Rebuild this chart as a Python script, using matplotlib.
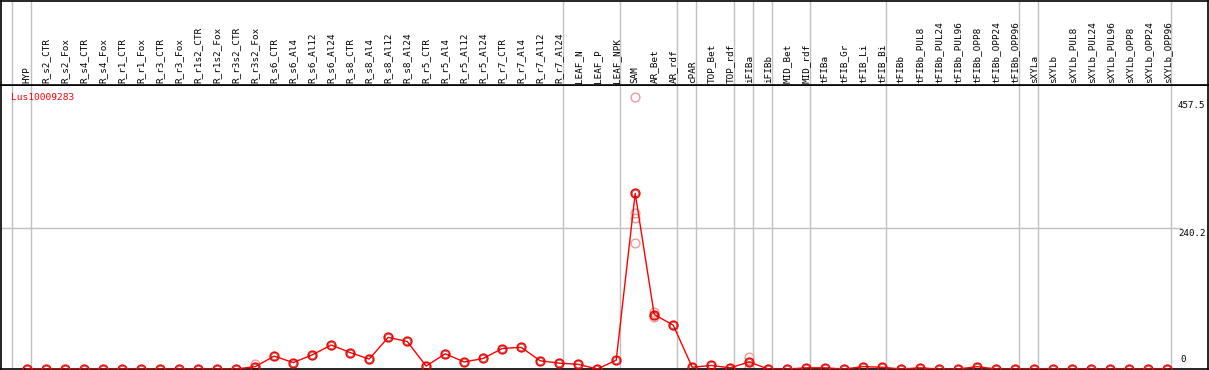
import numpy as np
import matplotlib
matplotlib.use("Agg")
import matplotlib.pyplot as plt
import matplotlib.transforms as mtransforms

# Daten
samples = ["HYP", "R_s2_CTR", "R_s2_Fox", "R_s4_CTR", "R_s4_Fox", "R_r1_CTR", "R_r1_Fox",
           "R_r3_CTR", "R_r3_Fox", "R_r1s2_CTR", "R_r1s2_Fox", "R_r3s2_CTR", "R_r3s2_Fox",
           "R_s6_CTR", "R_s6_Al4", "R_s6_Al12", "R_s6_Al24", "R_s8_CTR", "R_s8_Al4",
           "R_s8_Al12", "R_s8_Al24", "R_r5_CTR", "R_r5_Al4", "R_r5_Al12", "R_r5_Al24",
           "R_r7_CTR", "R_r7_Al4", "R_r7_Al12", "R_r7_Al24", "LEAF_N", "LEAF_P", "LEAF_NPK",
           "SAM", "AR_Bet", "AR_rdf", "cPAR", "TOP_Bet", "TOP_rdf", "iFIBa", "iFIBb",
           "MID_Bet", "MID_rdf", "tFIBa", "tFIB_Gr", "tFIB_Li", "tFIB_Bi", "tFIBb",
           "tFIBb_PUL8", "tFIBb_PUL24", "tFIBb_PUL96", "tFIBb_OPP8", "tFIBb_OPP24",
           "tFIBb_OPP96", "sXYLa", "sXYLb", "sXYLb_PUL8", "sXYLb_PUL24", "sXYLb_PUL96",
           "sXYLb_OPP8", "sXYLb_OPP24", "sXYLb_OPP96"]

mean_expr = [0, 0, 0, 0, 0, 0, 0, 0, 0, 0, 0, 0, 4,
             22, 11, 24, 41, 28, 17, 54, 47, 5, 26, 12, 18, 35, 37, 14, 10,
             8, 0, 15,
             300, 93, 75, 3, 6, 2, 12, 0, 0, 2, 2, 0, 4, 3, 0, 2, 0, 0, 4, 0, 0,
             0, 0, 0, 0, 0, 0, 0, 0]

# einzelne Replikate (nur wo sichtbar)
rep_samples = ["R_r3s2_Fox", "SAM", "SAM", "SAM", "SAM", "AR_Bet", "AR_Bet", "iFIBa", "iFIBa"]
rep_values = [8, 464, 266, 257, 215, 98, 88, 21, 2]

# Gruppengrenzen (nach diesen Proben)
group_ends = ["HYP", "R_r7_Al24", "LEAF_NPK", "AR_rdf", "cPAR", "TOP_rdf", "iFIBa",
              "iFIBb", "MID_rdf", "tFIB_Bi", "tFIBb_OPP96", "sXYLa", "sXYLb_OPP96"]

gene = "Lus10009283"
ytick_vals = [457.5, 240.2, 0]
ytick_txt = ["457.5", "240.2", "0"]

mono = "DejaVu Sans Mono"
W, H = 1209, 370
fig = plt.figure(figsize=(W / 100, H / 100), dpi=100)

x = np.arange(len(samples))
xmin = -26.7 / 19
xmax = xmin + 1207 / 19

ax = fig.add_axes([0.5 / W, 1 / H, 1207 / W, 284 / H])
lab = fig.add_axes([0.5 / W, 285 / H, 1207 / W, 84.5 / H], sharex=ax)

ax.set_xlim(xmin, xmax)
ax.set_ylim(0, 284 / 0.5857)
for a in (ax, lab):
    a.set_xticks([])
    a.set_yticks([])
    for s in a.spines.values():
        s.set_color("black")
        s.set_linewidth(1.2)

# Trennlinien
bounds = [-1] + [samples.index(s) for s in group_ends]
for b in bounds:
    for a in (ax, lab):
        a.axvline(b + 0.2, color="#c0c0c0", lw=1, zorder=0)

ax.axhline(240.2, xmax=1180 / 1207, color="#c0c0c0", lw=1, zorder=0)

# Replikate
rep_x = [samples.index(s) for s in rep_samples]
ax.plot(rep_x, rep_values, ls="none", marker="o", ms=6.3, mfc="none", mec="#f09a9a", mew=1.0, zorder=2)

# Mittelwert
ax.plot(x, mean_expr, color="red", lw=1, zorder=3)
ax.plot(x, mean_expr, ls="none", marker="o", ms=6.3, mfc="none", mec="red", mew=1.1, zorder=4)
ax.plot(x, mean_expr, ls="none", marker="o", ms=4.6, mfc="none", mec="#600000", mew=0.5, alpha=0.7, zorder=5)

# Achsenbeschriftung rechts
ytr = mtransforms.blended_transform_factory(ax.transAxes, ax.transData)
ax.text(1205 / 1207, 457.5, ytick_txt[0], transform=ytr, ha="right", va="top", fontsize=6.6, family=mono)
ax.text(1205 / 1207, 240.2 - 1.5, ytick_txt[1], transform=ytr, ha="right", va="top", fontsize=6.6, family=mono)
ax.text(1180 / 1207, 8, ytick_txt[2], transform=ytr, ha="left", va="bottom", fontsize=6.6, family=mono)

ax.text(10 / 1207, 1 - 8 / 284, gene, transform=ax.transAxes, ha="left", va="top",
        color="red", fontsize=6.8, family=mono)

# Probennamen
trans = mtransforms.blended_transform_factory(lab.transData, lab.transAxes)
for i, s in enumerate(samples):
    lab.text(i, 0.025, s, rotation=90, ha="center", va="bottom", fontsize=6.7,
             family=mono, transform=trans)

fig.savefig("out.png", dpi=100, facecolor="white")
